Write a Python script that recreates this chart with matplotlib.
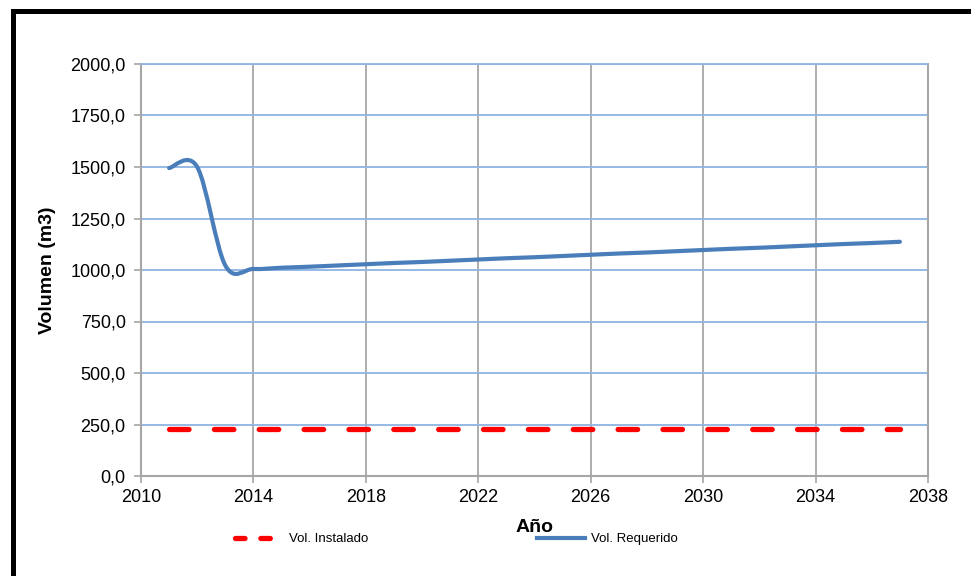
import matplotlib
matplotlib.use("Agg")
import matplotlib.pyplot as plt
import numpy as np
from matplotlib.path import Path
from matplotlib.patches import PathPatch, Rectangle
from matplotlib.lines import Line2D
from matplotlib.ticker import FuncFormatter, MultipleLocator

plt.rcParams['font.family'] = ['Liberation Sans', 'DejaVu Sans']

# datos
anios = list(range(2011, 2038))
vol_requerido = [1495, 1500, 1022, 1005, 1011, 1016, 1022, 1028, 1034, 1039,
                 1045, 1051, 1057, 1062, 1068, 1074, 1080, 1085, 1091, 1097,
                 1103, 1108, 1114, 1120, 1126, 1131, 1137]
vol_instalado = [228] * len(anios)
ticks_x = list(range(2010, 2039, 4))

fig = plt.figure(figsize=(9.71, 5.76), dpi=100)
ax = fig.add_axes([141 / 971, 100 / 576, 787 / 971, 412 / 576])

# curva suavizada tipo Excel (bezier entre puntos)
pts = np.column_stack([anios, vol_requerido]).astype(float)
ext = np.vstack([pts[0], pts, pts[-1]])
verts = [tuple(pts[0])]
codes = [Path.MOVETO]
for i in range(len(pts) - 1):
    c1 = pts[i] + (ext[i + 2] - ext[i]) / 6.0
    c2 = pts[i + 1] - (ext[i + 3] - ext[i + 1]) / 6.0
    verts += [tuple(c1), tuple(c2), tuple(pts[i + 1])]
    codes += [Path.CURVE4] * 3
ax.add_patch(PathPatch(Path(verts, codes), facecolor='none', edgecolor='#4A7EBB',
                       lw=3.0, capstyle='round', joinstyle='round', zorder=3))

ax.plot(anios, vol_instalado, color='#FF0000', lw=3.8, dashes=(3.7, 4.8),
        dash_capstyle='round', zorder=3)

ax.set_xlim(2010, 2038)
ax.set_ylim(0, 2000)
ax.set_xticks(ticks_x)
ax.yaxis.set_major_locator(MultipleLocator(250))
ax.yaxis.set_major_formatter(FuncFormatter(lambda v, p: f"{v:.1f}".replace('.', ',')))

ax.grid(axis='y', color='#8EB4E3', lw=1.3)
ax.grid(axis='x', color='#A0A0A0', lw=1.2)
ax.set_axisbelow(True)
for s in ['left', 'bottom', 'right']:
    ax.spines[s].set_color('#A6A6A6')
    ax.spines[s].set_linewidth(1.5)
ax.spines['top'].set_color('#8EB4E3')
ax.spines['top'].set_linewidth(1.3)
ax.tick_params(axis='both', direction='out', length=5, width=1.2, color='#A6A6A6',
               labelsize=13, labelcolor='black')
ax.tick_params(axis='y', pad=6)
ax.tick_params(axis='x', pad=4)

ax.set_xlabel('Año', fontsize=14, fontweight='bold', labelpad=10)
ax.set_ylabel('Volumen (m3)', fontsize=14, fontweight='bold', labelpad=10)

h1 = Line2D([], [], color='#FF0000', lw=3.8, dashes=(1.8, 3.0), dash_capstyle='round')
h2 = Line2D([], [], color='#4A7EBB', lw=3.0)
fig.legend([h1, h2], ['Vol. Instalado', 'Vol. Requerido'], ncol=2, frameon=False,
           loc='center left', bbox_to_anchor=(235 / 971, 1 - 539 / 576),
           fontsize=9.5, handlelength=3.6, handletextpad=0.5, columnspacing=12.8,
           borderpad=0, borderaxespad=0)

# marco negro
fig.patches.append(Rectangle((12.5 / 971, -0.2), 2, 1 - 11 / 576 + 0.2,
                             transform=fig.transFigure, fill=False,
                             edgecolor='black', lw=3.6, clip_on=False))

fig.savefig('out.png', dpi=100)
